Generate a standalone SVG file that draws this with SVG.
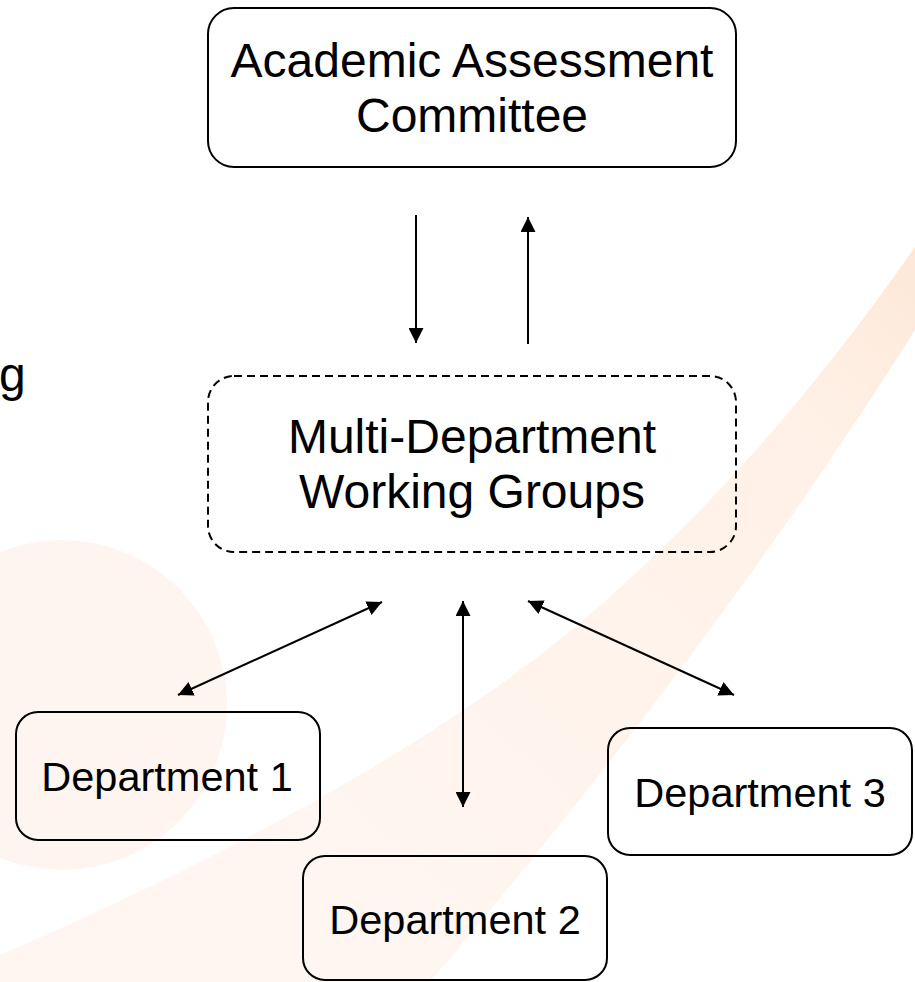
<svg xmlns="http://www.w3.org/2000/svg" width="915" height="982" viewBox="0 0 915 982">
  <style>
    .box { fill: none; stroke: #000; stroke-width: 2; }
    .dash { stroke-dasharray: 8 5; }
    .lbl { font-family: "Liberation Sans", Arial, sans-serif; fill: #000; text-anchor: middle; }
    .big { font-size: 48px; }
    .dep { font-size: 41.5px; }
    .wire { fill: none; stroke: #000; stroke-width: 2; }
  </style>
  <defs>
    <marker id="tip" viewBox="0 0 15 15" refX="15" refY="7.5" markerWidth="15" markerHeight="15" markerUnits="userSpaceOnUse" orient="auto-start-reverse">
      <path d="M0,0 L15,7.5 L0,15 z" fill="#000"/>
    </marker>
    <linearGradient id="swooshFill" x1="915" y1="240" x2="350" y2="900" gradientUnits="userSpaceOnUse">
      <stop offset="0" stop-color="#FDE8D8"/>
      <stop offset="0.25" stop-color="#FFF1E7"/>
      <stop offset="1" stop-color="#FFF6F1"/>
    </linearGradient>
  </defs>

  <!-- backdrop -->
  <rect x="0" y="0" width="915" height="982" fill="#fff"/>
  <circle cx="62" cy="705" r="165" fill="#FFF5F0"/>
  <path d="M0,955 Q380,790 580,623 Q760,470 915,247 L915,330 Q720,640 430,982 L0,982 z" fill="url(#swooshFill)"/>
  <text class="lbl big" x="-1" y="391" style="text-anchor:start">g</text>

  <!-- connectors -->
  <g id="connectors">
    <line class="wire" x1="416" y1="215" x2="416" y2="343" marker-end="url(#tip)"/>
    <line class="wire" x1="528" y1="344" x2="528" y2="217" marker-end="url(#tip)"/>
    <line class="wire" x1="382" y1="602" x2="178" y2="695" marker-start="url(#tip)" marker-end="url(#tip)"/>
    <line class="wire" x1="463" y1="601" x2="463" y2="807" marker-start="url(#tip)" marker-end="url(#tip)"/>
    <line class="wire" x1="528" y1="601" x2="734" y2="695" marker-start="url(#tip)" marker-end="url(#tip)"/>
  </g>

  <!-- nodes -->
  <g id="committee">
    <rect class="box" x="208" y="8" width="528" height="159" rx="26" ry="26"/>
    <text class="lbl big" x="472" y="77">Academic Assessment</text>
    <text class="lbl big" x="472" y="132">Committee</text>
  </g>

  <g id="working-groups">
    <rect class="box dash" x="208" y="376" width="528" height="176" rx="26" ry="26"/>
    <text class="lbl big" x="472" y="453">Multi-Department</text>
    <text class="lbl big" x="472" y="508">Working Groups</text>
  </g>

  <g id="department-1">
    <rect class="box" x="16" y="712" width="304" height="128" rx="22" ry="22"/>
    <text class="lbl dep" x="167" y="791">Department 1</text>
  </g>

  <g id="department-2">
    <rect class="box" x="303" y="856" width="304" height="124" rx="22" ry="22"/>
    <text class="lbl dep" x="455" y="934">Department 2</text>
  </g>

  <g id="department-3">
    <rect class="box" x="608" y="728" width="304" height="127" rx="22" ry="22"/>
    <text class="lbl dep" x="760" y="807">Department 3</text>
  </g>
</svg>
